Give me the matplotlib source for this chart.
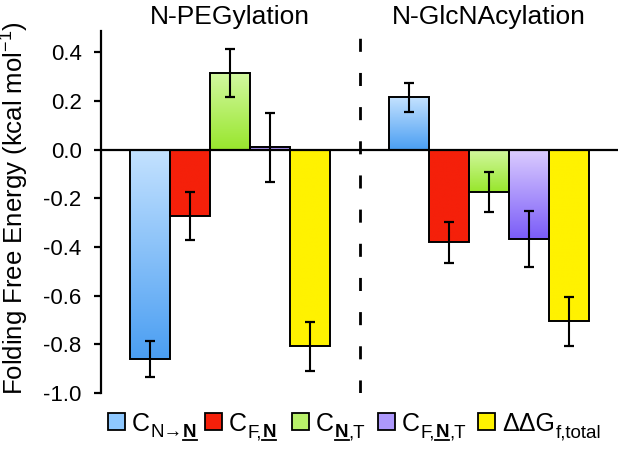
import matplotlib
matplotlib.use('Agg')
import matplotlib.pyplot as plt
import numpy as np
from matplotlib.colors import LinearSegmentedColormap
from matplotlib.patches import Rectangle
from matplotlib.lines import Line2D

plt.rcParams['font.family'] = ['Liberation Sans', 'DejaVu Sans']
plt.rcParams['mathtext.fontset'] = 'custom'
plt.rcParams['mathtext.rm'] = 'Liberation Sans'
plt.rcParams['mathtext.it'] = 'Liberation Sans:italic'
plt.rcParams['mathtext.bf'] = 'Liberation Sans:bold'

# ---- data ----
groups = ['N-PEGylation', 'N-GlcNAcylation']
# legend entries: (main text, [(subscript piece, bold+underlined)])
legend_entries = [
    ('C', [('N\u2192', False), ('N', True)]),
    ('C', [('F,', False), ('N', True)]),
    ('C', [('N', True), (',T', False)]),
    ('C', [('F,', False), ('N', True), (',T', False)]),
    ('\u0394\u0394G', [('f,total', False)]),
]
peg_values = [-0.860, -0.272, 0.315, 0.010, -0.808]
peg_errors = [0.075, 0.098, 0.100, 0.142, 0.100]
glc_values = [0.214, -0.381, -0.173, -0.366, -0.706]
glc_errors = [0.058, 0.083, 0.082, 0.115, 0.100]
yticks = [0.4, 0.2, 0.0, -0.2, -0.4, -0.6, -0.8, -1.0]

# colours: (light top, dark bottom)
bar_colors = [('#c4e2ff', '#4a9ef2'),
              ('#f5200a', '#f5200a'),
              ('#d2f8a0', '#98e62c'),
              ('#dccdff', '#7a5cf8'),
              ('#fff200', '#fff200')]
legend_face = ['#8ec8ff', '#f5200a', '#b8f06a', '#ad98fc', '#fff200']

W, H = 624, 451
fig = plt.figure(figsize=(W/100, H/100), dpi=100)
ax = fig.add_axes([101/W, 1-393/H, (618-101)/W, (393-31)/H])

x1 = np.arange(5)
x2 = np.arange(5) + 6.475
width = 1.0

def draw(xs, vals, errs):
    bars = ax.bar(xs, vals, width=width, facecolor='none', edgecolor='black',
                  linewidth=1.4, zorder=3)
    for b, (ctop, cbot) in zip(bars, bar_colors):
        x0 = b.get_x(); w = b.get_width()
        y0 = b.get_y(); h = b.get_height()
        lo, hi = min(y0, y0+h), max(y0, y0+h)
        cmap = LinearSegmentedColormap.from_list('g', [cbot, ctop])
        grad = np.linspace(0, 1, 256).reshape(-1, 1)
        im = ax.imshow(grad, cmap=cmap, extent=[x0, x0+w, lo, hi], origin='lower',
                       aspect='auto', zorder=2.5, interpolation='bilinear')
        im.set_clip_path(b)
    ax.errorbar(xs, vals, yerr=errs, fmt='none', ecolor='black', elinewidth=1.5,
                capsize=3.5, capthick=1.6, zorder=5)

draw(x1, peg_values, peg_errors)
draw(x2, glc_values, glc_errors)

ax.set_xlim(-1.225, 11.7)
ax.set_ylim(-1.0, 0.487)
ax.axhline(0, color='black', lw=1.6, zorder=4)
ax.axvline(5.25, color='black', lw=2, linestyle=(0, (4.7, 7.6)), zorder=4)

for s in ['top', 'right', 'bottom']:
    ax.spines[s].set_visible(False)
ax.spines['left'].set_linewidth(1.6)
ax.set_xticks([])
ax.set_yticks(yticks)
ax.set_yticklabels([f'{v:.1f}' for v in yticks], fontsize=16)
ax.tick_params(axis='y', direction='out', length=5, width=1.6, pad=9)
ax.set_ylabel(r'Folding Free Energy (kcal mol$^{\mathregular{-1}}$)', fontsize=18.5)
ax.yaxis.set_label_coords(-0.135, 0.51)

ax.text(np.mean(x1), 1.0 + 14/362, groups[0], transform=ax.get_xaxis_transform(),
        ha='center', va='center', fontsize=19)
ax.text(np.mean(x2), 1.0 + 14/362, groups[1], transform=ax.get_xaxis_transform(),
        ha='center', va='center', fontsize=19)

# ---- manual legend (underlined bold subscripts) ----
renderer = fig.canvas.get_renderer()
square_x = [108, 205, 292, 378, 478]
sq = 17
base_main = 431
base_sub = 437
main_fs, sub_fs = 18, 13.5
for (main, subs), face, sx in zip(legend_entries, legend_face, square_x):
    fig.add_artist(Rectangle((sx/W, 1-430/H), sq/W, sq/H, transform=fig.transFigure,
                             facecolor=face, edgecolor='black', linewidth=1.3))
    x = sx + sq + 7
    t = fig.text(x/W, 1-base_main/H, main, fontsize=main_fs, ha='left', va='baseline')
    x += t.get_window_extent(renderer).width + 1
    for s, bu in subs:
        t = fig.text(x/W, 1-base_sub/H, s, fontsize=sub_fs, ha='left', va='baseline',
                     fontweight='bold' if bu else 'normal')
        wpx = t.get_window_extent(renderer).width
        if bu:
            fig.add_artist(Line2D([x/W, (x+wpx)/W], [1-(base_sub+2.5)/H]*2,
                                  transform=fig.transFigure, color='black', lw=1.3))
        x += wpx

fig.savefig('out.png', dpi=100)
